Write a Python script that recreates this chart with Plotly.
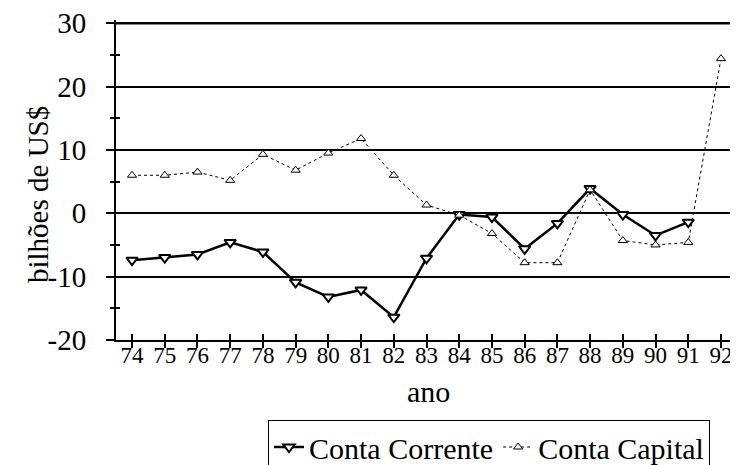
import plotly.graph_objects as go

anos = [74, 75, 76, 77, 78, 79, 80, 81, 82, 83, 84, 85, 86, 87, 88, 89, 90, 91, 92]
tick_labels = [str(a) for a in anos]
y_tickvals = [-20, -10, 0, 10, 20, 30]
y_ticktext = ["-20", "-10", "0", "10", "20", "30"]
y_top = y_tickvals[-1]
conta_corrente = [-7.4, -7.0, -6.5, -4.6, -6.1, -10.9, -13.2, -12.1, -16.4, -7.1,
                  -0.2, -0.6, -5.6, -1.6, 3.9, -0.2, -3.5, -1.4, None]
conta_capital = [6.0, 6.0, 6.5, 5.2, 9.3, 6.8, 9.5, 11.8, 6.0, 1.3,
                 -0.3, -3.2, -7.8, -7.8, 3.7, -4.3, -5.0, -4.6, 24.4]

FONT = "Liberation Serif, Times New Roman, serif"
OFF = 8  # page body margin
W, H = 738 - OFF, 465 - OFF
L, T = 116 - OFF, 20 - OFF
ph = 320
R, B = 0, H - T - ph
pw = W - L - R


def px(xp):
    return (xp - OFF - L) / pw


def py(yp):
    return (T + ph - (yp - OFF)) / ph


fig = go.Figure()
fig.add_trace(go.Scatter(
    x=anos, y=conta_corrente, name="Conta Corrente", mode="lines+markers",
    line=dict(color="black", width=2.5),
    marker=dict(symbol="triangle-down", size=10, color="white",
                line=dict(color="black", width=2)),
    xaxis="x", yaxis="y"))
fig.add_trace(go.Scatter(
    x=anos, y=conta_capital, name="Conta Capital", mode="lines+markers",
    line=dict(color="black", width=1, dash="dot"),
    marker=dict(symbol="triangle-up", size=8, color="white",
                line=dict(color="black", width=1)),
    xaxis="x2", yaxis="y2"))

xr = [73.51, 92.52]
yr = [-20, 30.5]

fig.update_layout(
    width=W, height=H,
    margin=dict(l=L, r=R, t=T, b=B, autoexpand=False),
    paper_bgcolor="white", plot_bgcolor="white",
    font=dict(family=FONT, color="black"),
    showlegend=True,
    legend=dict(orientation="h", x=px(268), xanchor="left",
                y=py(420), yanchor="top",
                bordercolor="black", borderwidth=1,
                font=dict(family=FONT, size=30, color="black"),
                bgcolor="white", itemwidth=30, tracegroupgap=0),
    xaxis=dict(range=xr, tickmode="array", tickvals=anos, ticktext=tick_labels,
               showgrid=False, zeroline=False, showline=True, linecolor="black",
               linewidth=2, ticks="outside", ticklen=6, tickwidth=2,
               tickcolor="black", tickfont=dict(family=FONT, size=23),
               ticklabelstandoff=-13, ticklabeloverflow="allow",
               automargin=False, anchor="y"),
    yaxis=dict(range=yr, tickmode="array", tickvals=y_tickvals, ticktext=y_ticktext,
               showgrid=True, gridcolor="black",
               gridwidth=2, zeroline=True, zerolinecolor="black", zerolinewidth=2,
               showline=True, linecolor="black", linewidth=2,
               ticks="outside", ticklen=8, tickwidth=2, tickcolor="black",
               tickfont=dict(family=FONT, size=29), ticklabelstandoff=14,
               ticklabeloverflow="allow",
               minor=dict(dtick=5, tick0=0, ticks="outside", ticklen=4, tickwidth=2,
                          tickcolor="black", showgrid=False),
               automargin=False, anchor="x"),
    xaxis2=dict(range=xr, overlaying="x", anchor="y2", side="bottom",
                tickmode="array", tickvals=anos, showticklabels=False,
                showgrid=False, zeroline=False, showline=False,
                ticks="inside", ticklen=6, tickwidth=2, tickcolor="black",
                automargin=False),
    yaxis2=dict(range=yr, overlaying="y", anchor="x2", side="left",
                tickmode="array", tickvals=y_tickvals, showticklabels=False,
                showgrid=True, gridcolor="black", gridwidth=2,
                zeroline=False, showline=False,
                ticks="inside", ticklen=1, tickwidth=2, tickcolor="black",
                minor=dict(dtick=5, tick0=0, ticks="inside", ticklen=4, tickwidth=2,
                           tickcolor="black", showgrid=False),
                automargin=False),
    shapes=[
        dict(type="line", xref="paper", x0=0, x1=1, yref="y", y0=y_top, y1=y_top,
             line=dict(color="black", width=2.5), layer="above"),
    ],
    annotations=[
        dict(text="ano", xref="paper", yref="paper",
             x=px(428), y=py(391), xanchor="center",
             yanchor="middle", showarrow=False,
             font=dict(family=FONT, size=30, color="black")),
        dict(text="bilhões de US$", xref="paper", yref="paper",
             x=px(38), y=py(195), xanchor="center",
             yanchor="middle", textangle=-90, showarrow=False,
             font=dict(family=FONT, size=29, color="black")),
    ],
)

fig.write_html("out.html")
